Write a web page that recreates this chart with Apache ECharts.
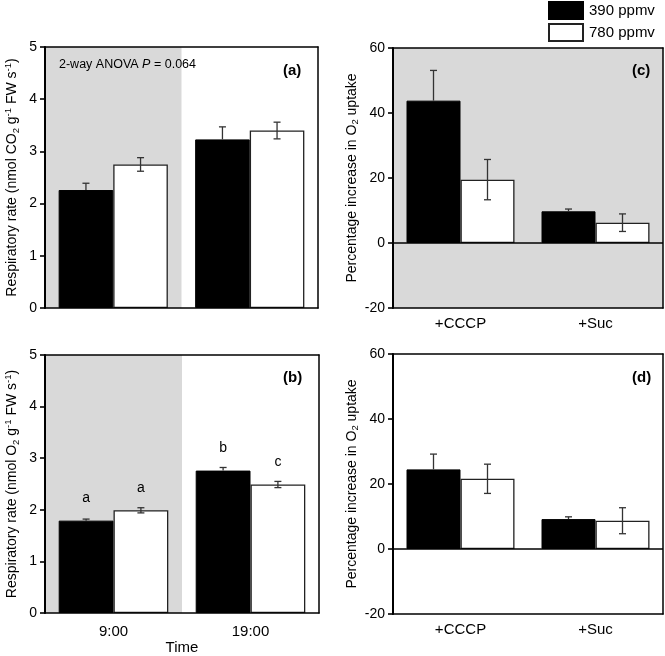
<!DOCTYPE html>
<html>
<head>
<meta charset="utf-8">
<script src="https://cdn.jsdelivr.net/npm/echarts@6/dist/echarts.min.js"></script>
<style>
html,body{margin:0;padding:0;background:#fff;}
#chart{width:665px;height:656px;}
</style>
</head>
<body>
<div id="chart"></div>
<script>
// ---------- data ----------
const timeCategories = ['9:00', '19:00'];
const treatCategories = ['+CCCP', '+Suc'];
const seriesNames = ['390 ppmv', '780 ppmv'];

// (a) CO2 respiration
const co2_390 = [2.26, 3.23];
const co2_390_err = [0.13, 0.24];
const co2_780 = [2.75, 3.40];
const co2_780_err = [0.13, 0.16];

// (b) O2 respiration
const o2_390 = [1.79, 2.76];
const o2_390_err = [0.03, 0.06];
const o2_780 = [1.99, 2.49];
const o2_780_err = [0.05, 0.06];
const letters_390 = ['a', 'b'];
const letters_780 = ['a', 'c'];

// (c) percentage increase in O2 uptake
const c_390 = [43.8, 9.75];
const c_390_err = [9.3, 0.7];
const c_780 = [19.5, 6.25];
const c_780_err = [6.2, 2.7];

// (d) percentage increase in O2 uptake
const d_390 = [24.5, 9.2];
const d_390_err = [4.7, 0.7];
const d_780 = [21.6, 8.7];
const d_780_err = [4.5, 4.0];

// shaded (dark period) range in category-band units for panels a, b
const shadeRange = [0, 1];

const respTicks = {min: 0, max: 5, interval: 1};
const pctTicks = {min: -20, max: 60, interval: 20};

// ---------- styles ----------
const FONT = 'Liberation Sans, Arial, sans-serif';
const GREY = '#d9d9d9';
const AXC = '#000';

const grids = [
  {left: 45, top: 47, width: 273, height: 261},
  {left: 45, top: 355, width: 274, height: 258},
  {left: 393, top: 48, width: 270, height: 260},
  {left: 393, top: 354, width: 270, height: 260}
];

function bottomCat(gi, cats, showLabel, margin, name) {
  return {
    type: 'category', gridIndex: gi, data: cats, position: 'bottom', z: 5,
    axisLine: {onZero: false, lineStyle: {color: AXC, width: 1.6}},
    axisTick: {alignWithLabel: true, length: 5, lineStyle: {color: AXC, width: 1.6}},
    axisLabel: {show: showLabel, color: '#000', fontSize: 15, fontFamily: FONT, margin: margin},
    splitLine: {show: false},
    name: name || '', nameLocation: 'middle', nameGap: 26,
    nameTextStyle: {color: '#000', fontSize: 15, fontFamily: FONT}
  };
}
function topCat(gi, cats) {
  return {
    type: 'category', gridIndex: gi, data: cats, position: 'top', z: 5,
    axisLine: {onZero: false, lineStyle: {color: AXC, width: 1.5}},
    axisTick: {show: false}, axisLabel: {show: false}, splitLine: {show: false}
  };
}
function hiddenVal(gi) {
  return {type: 'value', gridIndex: gi, min: 0, max: 2, show: false};
}
function leftVal(gi, t, name, gap) {
  return {
    type: 'value', gridIndex: gi, position: 'left', min: t.min, max: t.max, interval: t.interval, z: 5,
    axisLine: {show: true, onZero: false, lineStyle: {color: AXC, width: 2}},
    axisTick: {show: true, length: 5, lineStyle: {color: AXC, width: 1.6}},
    axisLabel: {color: '#000', fontSize: 14, fontFamily: FONT, margin: 8},
    splitLine: {show: false},
    name: name, nameLocation: 'middle', nameGap: gap,
    nameTextStyle: {
      color: '#000', fontSize: 14, fontFamily: FONT,
      rich: {
        t: {fontSize: 14, fontFamily: FONT, color: '#000', lineHeight: 18},
        sub: {fontSize: 9.5, fontFamily: FONT, color: '#000', lineHeight: 18, verticalAlign: 'bottom'},
        sup: {fontSize: 9.5, fontFamily: FONT, color: '#000', lineHeight: 18, verticalAlign: 'top'}
      }
    }
  };
}
function rightVal(gi, t) {
  return {
    type: 'value', gridIndex: gi, position: 'right', min: t.min, max: t.max, interval: t.interval, z: 5,
    axisLine: {show: true, onZero: false, lineStyle: {color: AXC, width: 1.5}},
    axisTick: {show: false}, axisLabel: {show: false}, splitLine: {show: false}
  };
}

const xAxes = [
  bottomCat(0, timeCategories, false, 8),
  bottomCat(1, timeCategories, true, 11, 'Time'),
  bottomCat(2, treatCategories, true, 8),
  bottomCat(3, treatCategories, true, 8),
  topCat(0, timeCategories), topCat(1, timeCategories), topCat(2, treatCategories), topCat(3, treatCategories),
  hiddenVal(0), hiddenVal(1)
];

const nameA = '{t|Respiratory rate (nmol CO}{sub|2}{t| g}{sup|-1}{t| FW s}{sup|-1}{t|)}';
const nameB = '{t|Respiratory rate (nmol O}{sub|2}{t| g}{sup|-1}{t| FW s}{sup|-1}{t|)}';
const nameC = '{t|Percentage increase in O}{sub|2}{t| uptake}';

const yAxes = [
  leftVal(0, respTicks, nameA, 24),
  leftVal(1, respTicks, nameB, 24),
  leftVal(2, pctTicks, nameC, 31),
  leftVal(3, pctTicks, nameC, 31),
  rightVal(0, respTicks), rightVal(1, respTicks), rightVal(2, pctTicks), rightVal(3, pctTicks)
];

// ---------- series helpers ----------
function barSeries(name, gi, values, isBlack, extra) {
  const s = {
    type: 'bar', name: name, xAxisIndex: gi, yAxisIndex: gi, data: values,
    barGap: '0%', barCategoryGap: '20%', z: 2,
    itemStyle: isBlack ? {color: '#000', borderColor: '#000', borderWidth: 1}
                       : {color: '#fff', borderColor: '#222', borderWidth: 1.3}
  };
  return Object.assign(s, extra || {});
}
function errRender(offset, upperOnly) {
  return function (params, api) {
    const i = api.value(0), v = api.value(1), e = api.value(2);
    const band = api.size([1, 0])[0];
    const cx = api.coord([i, v])[0] + offset * band;
    const yT = api.coord([i, v + e])[1];
    const yB = api.coord([i, upperOnly ? v : v - e])[1];
    const cw = 3.5;
    const style = {stroke: '#333', lineWidth: 1.3, fill: null};
    const children = [
      {type: 'line', shape: {x1: cx, y1: yT, x2: cx, y2: yB}, style: style},
      {type: 'line', shape: {x1: cx - cw, y1: yT, x2: cx + cw, y2: yT}, style: style}
    ];
    if (!upperOnly) children.push({type: 'line', shape: {x1: cx - cw, y1: yB, x2: cx + cw, y2: yB}, style: style});
    return {type: 'group', children: children};
  };
}
function errSeries(gi, values, errs, offset, upperOnly) {
  return {
    type: 'custom', name: 'err', xAxisIndex: gi, yAxisIndex: gi, z: 3, silent: true,
    renderItem: errRender(offset, upperOnly),
    data: values.map((v, i) => [i, v, errs[i]])
  };
}
function shadeSeries(gi, hiddenXIndex) {
  return {
    type: 'custom', name: 'shade', xAxisIndex: hiddenXIndex, yAxisIndex: gi, z: 1, silent: true,
    renderItem: function (params, api) {
      const cs = params.coordSys;
      const x0 = api.coord([api.value(0), 0])[0];
      const x1 = api.coord([api.value(1), 0])[0];
      return {type: 'rect', shape: {x: x0, y: cs.y, width: x1 - x0, height: cs.height}, style: {fill: GREY}};
    },
    data: [[shadeRange[0], shadeRange[1]]]
  };
}
const zeroLine = {
  silent: true, symbol: 'none', label: {show: false},
  lineStyle: {color: '#000', width: 1.6, type: 'solid'},
  data: [{yAxis: 0}]
};
function letterLabel(letters, dist) {
  return {show: true, position: 'top', distance: dist, color: '#000', fontSize: 14, fontFamily: FONT,
          formatter: p => letters[p.dataIndex]};
}

const series = [
  shadeSeries(0, 8),
  shadeSeries(1, 9),
  // (a)
  barSeries(seriesNames[0], 0, co2_390, true),
  barSeries(seriesNames[1], 0, co2_780, false),
  errSeries(0, co2_390, co2_390_err, -0.2, true),
  errSeries(0, co2_780, co2_780_err, 0.2, false),
  // (b)
  barSeries(seriesNames[0], 1, o2_390, true, {label: letterLabel(letters_390, 15)}),
  barSeries(seriesNames[1], 1, o2_780, false, {label: letterLabel(letters_780, 15)}),
  errSeries(1, o2_390, o2_390_err, -0.2, true),
  errSeries(1, o2_780, o2_780_err, 0.2, false),
  // (c)
  barSeries(seriesNames[0], 2, c_390, true, {markLine: zeroLine}),
  barSeries(seriesNames[1], 2, c_780, false),
  errSeries(2, c_390, c_390_err, -0.2, true),
  errSeries(2, c_780, c_780_err, 0.2, false),
  // (d)
  barSeries(seriesNames[0], 3, d_390, true, {markLine: zeroLine}),
  barSeries(seriesNames[1], 3, d_780, false),
  errSeries(3, d_390, d_390_err, -0.2, true),
  errSeries(3, d_780, d_780_err, 0.2, false)
];

const panelTag = (txt, x, y) => ({
  type: 'text', left: x, top: y, z: 10,
  style: {text: txt, fill: '#000', font: 'bold 15px ' + FONT}
});

const option = {
  animation: false,
  backgroundColor: '#fff',
  grid: grids.map((g, i) => Object.assign({
    show: true, backgroundColor: (i === 2) ? GREY : '#fff', borderWidth: 0
  }, g)),
  legend: {
    data: seriesNames, left: 548, top: 1, orient: 'vertical', padding: 0,
    itemWidth: 34, itemHeight: 17, itemGap: 3, icon: 'rect',
    textStyle: {color: '#000', fontSize: 15, fontFamily: FONT, padding: [0, 0, 0, 1]}
  },
  xAxis: xAxes,
  yAxis: yAxes,
  series: series,
  graphic: [
    {
      type: 'text', left: 59, top: 58, z: 10,
      style: {
        text: '{n|2-way ANOVA }{i|P}{n| = 0.064}',
        rich: {
          n: {fontSize: 12.5, fontFamily: FONT, fill: '#000'},
          i: {fontSize: 12.5, fontFamily: FONT, fontStyle: 'italic', fill: '#000'}
        }
      }
    },
    panelTag('(a)', 283, 63),
    panelTag('(b)', 283, 370),
    panelTag('(c)', 632, 63),
    panelTag('(d)', 632, 370)
  ]
};

const chart = echarts.init(document.getElementById('chart'), null, {renderer: 'canvas'});
chart.setOption(option);
</script>
</body>
</html>
